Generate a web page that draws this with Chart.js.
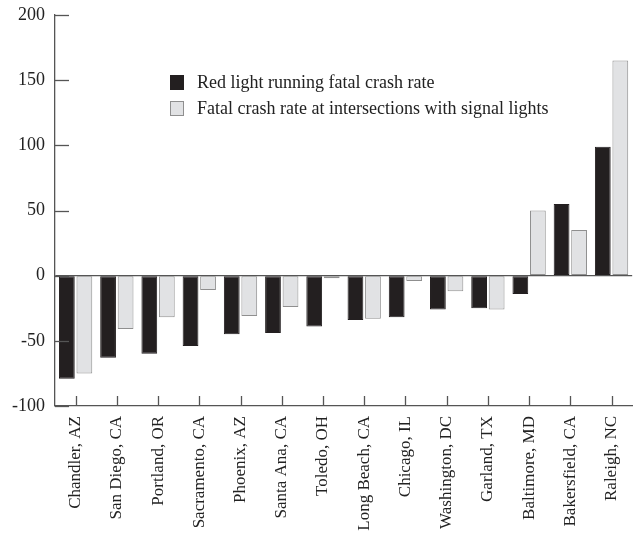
<!DOCTYPE html>
<html lang="en">
<head>
  <meta charset="UTF-8" />
  <title>Red light running fatal crash rate by city</title>
  <script src="https://cdn.jsdelivr.net/npm/chart.js"></script>
  <style>
    html, body {
      margin: 0;
      padding: 0;
      background: #ffffff;
    }
    #wrap {
      width: 642px;
      height: 539px;
    }
  </style>
</head>
<body>
  <div id="wrap"><canvas id="crashChart"></canvas></div>

  <script>
    const cities = ["Chandler, AZ", "San Diego, CA", "Portland, OR", "Sacramento, CA", "Phoenix, AZ",
      "Santa Ana, CA", "Toledo, OH", "Long Beach, CA", "Chicago, IL", "Washington, DC",
      "Garland, TX", "Baltimore, MD", "Bakersfield, CA", "Raleigh, NC"];
    const redLightRate = [-79, -63, -60, -54, -45, -44, -39, -34, -32, -26, -25, -14, 55, 99];
    const signalRate = [-75, -41, -32, -11, -31, -24, -2, -33, -4, -12, -26, 50, 35, 165];
    const yTicks = [-100, -50, 0, 50, 100, 150, 200];

    const serif = "'Liberation Serif', 'Times New Roman', serif";
    const axisColor = "#555555";

    // ticks pointing into the plot, legend drawn inside the plot
    const insideBits = {
      id: "insideBits",
      afterDraw(chart) {
        const ctx = chart.ctx;
        const x = chart.scales.x, y = chart.scales.y;
        const area = chart.chartArea;
        ctx.save();
        ctx.strokeStyle = axisColor;
        ctx.lineWidth = 1.3;
        yTicks.forEach(v => {
          const py = Math.round(y.getPixelForValue(v)) + 0.5;
          ctx.beginPath();
          ctx.moveTo(area.left, py);
          ctx.lineTo(area.left + 14, py);
          ctx.stroke();
        });
        cities.forEach((c, i) => {
          const px = Math.round(x.getPixelForValue(i)) + 0.5;
          ctx.beginPath();
          ctx.moveTo(px, area.bottom);
          ctx.lineTo(px, area.bottom - 10);
          ctx.stroke();
        });

        ctx.font = "18px " + serif;
        ctx.textBaseline = "middle";
        chart.data.datasets.forEach((ds, i) => {
          const bx = area.left + 115;
          const by = area.top + 60 + i * 26;
          ctx.fillStyle = ds.backgroundColor;
          ctx.fillRect(bx, by, 13, 14);
          ctx.strokeStyle = ds.borderColor;
          ctx.lineWidth = 1;
          ctx.strokeRect(bx + 0.5, by + 0.5, 13, 14);
          ctx.fillStyle = "#222222";
          ctx.fillText(ds.label, bx + 27, by + 8);
        });
        ctx.restore();
      }
    };

    new Chart(document.getElementById("crashChart"), {
      type: "bar",
      data: {
        labels: cities,
        datasets: [{
          label: "Red light running fatal crash rate",
          data: redLightRate,
          backgroundColor: "#231f20",
          borderColor: "#231f20",
          borderWidth: 1,
          borderSkipped: false
        }, {
          label: "Fatal crash rate at intersections with signal lights",
          data: signalRate,
          backgroundColor: "#e1e2e4",
          borderColor: "#8f8f8f",
          borderWidth: 1,
          borderSkipped: false
        }]
      },
      options: {
        responsive: true,
        maintainAspectRatio: false,
        animation: false,
        layout: { padding: { top: 15, right: 1, left: 0, bottom: 0 } },
        plugins: {
          legend: { display: false },
          tooltip: { enabled: false }
        },
        datasets: {
          bar: { barPercentage: 0.9, categoryPercentage: 0.85 }
        },
        scales: {
          x: {
            grid: { display: false, drawTicks: false },
            border: { display: true, color: axisColor, width: 1.3 },
            ticks: {
              minRotation: 90,
              maxRotation: 90,
              padding: 10,
              color: "#222222",
              font: { family: serif, size: 17 }
            },
            afterFit(scale) { scale.height = 133; }
          },
          y: {
            min: -100,
            max: 200,
            grid: {
              drawTicks: false,
              color: ctx => ctx.tick && ctx.tick.value === 0 ? axisColor : "rgba(0,0,0,0)",
              lineWidth: 1.3
            },
            border: { display: true, color: axisColor, width: 1.3 },
            ticks: {
              stepSize: 50,
              padding: 10,
              color: "#222222",
              font: { family: serif, size: 18 }
            },
            afterFit(scale) {
              scale.width = 55;
              scale.paddingTop = 0;
              scale.paddingBottom = 0;
            }
          }
        }
      },
      plugins: [insideBits]
    });
  </script>
</body>
</html>
